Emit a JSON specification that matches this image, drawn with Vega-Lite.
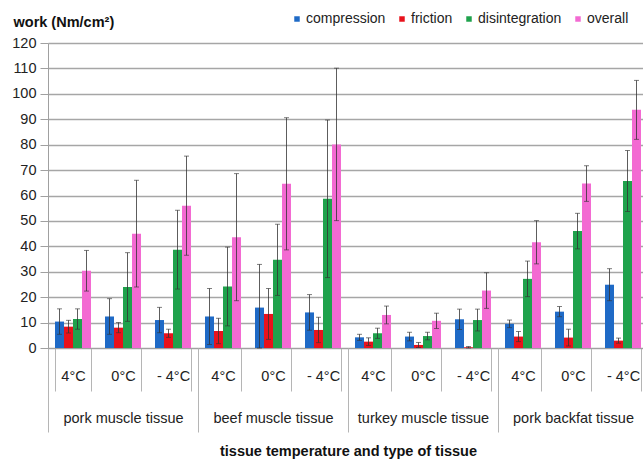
{
  "$schema": "https://vega.github.io/schema/vega-lite/v6.json",
  "width": 600,
  "height": 305,
  "autosize": "none",
  "padding": {"left": 48, "top": 43, "right": -5, "bottom": 114},
  "config": {
    "font": "Liberation Sans",
    "view": {"stroke": null},
    "axis": {"labelFont": "Liberation Sans", "titleFont": "Liberation Sans", "labelColor": "#222", "titleColor": "#111"},
    "legend": {"labelFont": "Liberation Sans"}
  },
  "data": {
    "values": [
      {"group": "pork muscle tissue|4°C", "tissue": "pork muscle tissue", "series": "compression", "value": 10.4, "lo": 5.4, "hi": 15.4},
      {"group": "pork muscle tissue|4°C", "tissue": "pork muscle tissue", "series": "friction", "value": 8.4, "lo": 5.9, "hi": 10.9},
      {"group": "pork muscle tissue|4°C", "tissue": "pork muscle tissue", "series": "disintegration", "value": 11.4, "lo": 7.4, "hi": 15.4},
      {"group": "pork muscle tissue|4°C", "tissue": "pork muscle tissue", "series": "overall", "value": 30.4, "lo": 22.4, "hi": 38.4},
      {"group": "pork muscle tissue|0°C", "tissue": "pork muscle tissue", "series": "compression", "value": 12.4, "lo": 5.4, "hi": 19.4},
      {"group": "pork muscle tissue|0°C", "tissue": "pork muscle tissue", "series": "friction", "value": 8.0, "lo": 6.0, "hi": 10.0},
      {"group": "pork muscle tissue|0°C", "tissue": "pork muscle tissue", "series": "disintegration", "value": 24.0, "lo": 10.5, "hi": 37.5},
      {"group": "pork muscle tissue|0°C", "tissue": "pork muscle tissue", "series": "overall", "value": 45.0, "lo": 24.0, "hi": 66.0},
      {"group": "pork muscle tissue|- 4°C", "tissue": "pork muscle tissue", "series": "compression", "value": 11.0, "lo": 6.0, "hi": 16.0},
      {"group": "pork muscle tissue|- 4°C", "tissue": "pork muscle tissue", "series": "friction", "value": 5.8, "lo": 4.2, "hi": 7.4},
      {"group": "pork muscle tissue|- 4°C", "tissue": "pork muscle tissue", "series": "disintegration", "value": 38.7, "lo": 23.2, "hi": 54.2},
      {"group": "pork muscle tissue|- 4°C", "tissue": "pork muscle tissue", "series": "overall", "value": 56.0, "lo": 36.5, "hi": 75.5},
      {"group": "beef muscle tissue|4°C", "tissue": "beef muscle tissue", "series": "compression", "value": 12.4, "lo": 1.4, "hi": 23.4},
      {"group": "beef muscle tissue|4°C", "tissue": "beef muscle tissue", "series": "friction", "value": 6.7, "lo": 1.7, "hi": 11.7},
      {"group": "beef muscle tissue|4°C", "tissue": "beef muscle tissue", "series": "disintegration", "value": 24.2, "lo": 8.7, "hi": 39.7},
      {"group": "beef muscle tissue|4°C", "tissue": "beef muscle tissue", "series": "overall", "value": 43.6, "lo": 18.6, "hi": 68.6},
      {"group": "beef muscle tissue|0°C", "tissue": "beef muscle tissue", "series": "compression", "value": 15.9, "lo": 0, "hi": 32.9},
      {"group": "beef muscle tissue|0°C", "tissue": "beef muscle tissue", "series": "friction", "value": 13.4, "lo": 3.4, "hi": 23.4},
      {"group": "beef muscle tissue|0°C", "tissue": "beef muscle tissue", "series": "disintegration", "value": 34.7, "lo": 20.7, "hi": 48.7},
      {"group": "beef muscle tissue|0°C", "tissue": "beef muscle tissue", "series": "overall", "value": 64.6, "lo": 38.6, "hi": 90.6},
      {"group": "beef muscle tissue|- 4°C", "tissue": "beef muscle tissue", "series": "compression", "value": 14.0, "lo": 7.0, "hi": 21.0},
      {"group": "beef muscle tissue|- 4°C", "tissue": "beef muscle tissue", "series": "friction", "value": 7.1, "lo": 2.1, "hi": 12.1},
      {"group": "beef muscle tissue|- 4°C", "tissue": "beef muscle tissue", "series": "disintegration", "value": 58.7, "lo": 27.7, "hi": 89.7},
      {"group": "beef muscle tissue|- 4°C", "tissue": "beef muscle tissue", "series": "overall", "value": 80.1, "lo": 50.1, "hi": 110.1},
      {"group": "turkey muscle tissue|4°C", "tissue": "turkey muscle tissue", "series": "compression", "value": 4.2, "lo": 3.0, "hi": 5.4},
      {"group": "turkey muscle tissue|4°C", "tissue": "turkey muscle tissue", "series": "friction", "value": 2.5, "lo": 1.0, "hi": 4.0},
      {"group": "turkey muscle tissue|4°C", "tissue": "turkey muscle tissue", "series": "disintegration", "value": 5.8, "lo": 3.8, "hi": 7.8},
      {"group": "turkey muscle tissue|4°C", "tissue": "turkey muscle tissue", "series": "overall", "value": 13.0, "lo": 9.5, "hi": 16.5},
      {"group": "turkey muscle tissue|0°C", "tissue": "turkey muscle tissue", "series": "compression", "value": 4.5, "lo": 2.8, "hi": 6.2},
      {"group": "turkey muscle tissue|0°C", "tissue": "turkey muscle tissue", "series": "friction", "value": 1.2, "lo": 0.2, "hi": 2.2},
      {"group": "turkey muscle tissue|0°C", "tissue": "turkey muscle tissue", "series": "disintegration", "value": 4.7, "lo": 3.2, "hi": 6.2},
      {"group": "turkey muscle tissue|0°C", "tissue": "turkey muscle tissue", "series": "overall", "value": 10.7, "lo": 7.7, "hi": 13.7},
      {"group": "turkey muscle tissue|- 4°C", "tissue": "turkey muscle tissue", "series": "compression", "value": 11.3, "lo": 7.3, "hi": 15.3},
      {"group": "turkey muscle tissue|- 4°C", "tissue": "turkey muscle tissue", "series": "friction", "value": 0.3, "lo": 0.0, "hi": 0.6},
      {"group": "turkey muscle tissue|- 4°C", "tissue": "turkey muscle tissue", "series": "disintegration", "value": 11.0, "lo": 6.7, "hi": 15.3},
      {"group": "turkey muscle tissue|- 4°C", "tissue": "turkey muscle tissue", "series": "overall", "value": 22.6, "lo": 15.6, "hi": 29.6},
      {"group": "pork backfat tissue|4°C", "tissue": "pork backfat tissue", "series": "compression", "value": 9.5, "lo": 8.0, "hi": 11.0},
      {"group": "pork backfat tissue|4°C", "tissue": "pork backfat tissue", "series": "friction", "value": 4.5, "lo": 2.5, "hi": 6.5},
      {"group": "pork backfat tissue|4°C", "tissue": "pork backfat tissue", "series": "disintegration", "value": 27.2, "lo": 20.2, "hi": 34.2},
      {"group": "pork backfat tissue|4°C", "tissue": "pork backfat tissue", "series": "overall", "value": 41.6, "lo": 33.1, "hi": 50.1},
      {"group": "pork backfat tissue|0°C", "tissue": "pork backfat tissue", "series": "compression", "value": 14.3, "lo": 12.3, "hi": 16.3},
      {"group": "pork backfat tissue|0°C", "tissue": "pork backfat tissue", "series": "friction", "value": 4.1, "lo": 0.8, "hi": 7.4},
      {"group": "pork backfat tissue|0°C", "tissue": "pork backfat tissue", "series": "disintegration", "value": 46.0, "lo": 39.0, "hi": 53.0},
      {"group": "pork backfat tissue|0°C", "tissue": "pork backfat tissue", "series": "overall", "value": 64.7, "lo": 57.7, "hi": 71.7},
      {"group": "pork backfat tissue|- 4°C", "tissue": "pork backfat tissue", "series": "compression", "value": 24.9, "lo": 18.6, "hi": 31.2},
      {"group": "pork backfat tissue|- 4°C", "tissue": "pork backfat tissue", "series": "friction", "value": 2.9, "lo": 1.9, "hi": 3.9},
      {"group": "pork backfat tissue|- 4°C", "tissue": "pork backfat tissue", "series": "disintegration", "value": 65.7, "lo": 53.7, "hi": 77.7},
      {"group": "pork backfat tissue|- 4°C", "tissue": "pork backfat tissue", "series": "overall", "value": 93.7, "lo": 82.1, "hi": 105.3}
    ]
  },
  "layer": [
    {
      "encoding": {
        "x": {
          "field": "group", "type": "nominal", "sort": null,
          "scale": {"paddingInner": 0.28, "paddingOuter": 0.14},
          "axis": {
            "orient": "bottom", "title": null, "labelAngle": 0,
            "labelExpr": "split(datum.value, '|')[1]",
            "tickBand": "extent", "tickSize": 43, "tickColor": "#b5b5b5", "tickWidth": 1,
            "domainColor": "#a0a0a0", "domainWidth": 1,
            "labelFontSize": 14.5, "labelPadding": -22, "labelOverlap": false, "labelBound": false
          }
        },
        "xOffset": {"field": "series", "type": "nominal", "sort": ["compression", "friction", "disintegration", "overall"], "scale": {"paddingInner": 0, "paddingOuter": 0}}
      },
      "layer": [
        {
          "mark": {"type": "bar"},
          "encoding": {
            "y": {
              "field": "value", "type": "quantitative",
              "scale": {"domain": [0, 120], "nice": false},
              "axis": {
                "values": [0, 10, 20, 30, 40, 50, 60, 70, 80, 90, 100, 110, 120],
                "tickCount": 13, "labelOverlap": false, "labelFlush": false,
                "title": "work (Nm/cm²)", "titleAngle": 0, "titleAlign": "left", "titleBaseline": "middle",
                "titleX": -35, "titleY": -21, "titleFontSize": 14.5, "titleFontWeight": "bold",
                "labelFontSize": 14.5, "labelPadding": 4, "tickSize": 8, "tickColor": "#a0a0a0",
                "domainColor": "#a0a0a0", "gridColor": "#a6a6a6", "gridWidth": 1.3, "grid": true
              }
            },
            "color": {
              "field": "series", "type": "nominal",
              "scale": {"domain": ["compression", "friction", "disintegration", "overall"], "range": ["#1f6ac6", "#e8121c", "#1fa24c", "#f36ad2"]},
              "legend": {
                "title": null, "orient": "none", "direction": "horizontal", "legendX": 242, "legendY": -31,
                "symbolType": "square", "symbolSize": 30, "symbolStrokeWidth": 0, "labelFontSize": 14,
                "labelOffset": 2, "columnPadding": 9, "labelColor": "#222"
              }
            }
          }
        },
        {
          "mark": {"type": "rule", "color": "#333", "strokeWidth": 0.8},
          "encoding": {"y": {"field": "lo", "type": "quantitative"}, "y2": {"field": "hi"}}
        },
        {
          "mark": {"type": "tick", "color": "#333", "thickness": 0.9, "size": 5},
          "encoding": {"y": {"field": "hi", "type": "quantitative"}}
        },
        {
          "mark": {"type": "tick", "color": "#333", "thickness": 0.9, "size": 5},
          "encoding": {"y": {"field": "lo", "type": "quantitative"}}
        }
      ]
    },
    {
      "mark": {"type": "rule", "opacity": 0},
      "encoding": {
        "x": {
          "field": "tissue", "type": "nominal",
          "sort": ["pork muscle tissue", "beef muscle tissue", "turkey muscle tissue", "pork backfat tissue"],
          "scale": {"paddingInner": 0, "paddingOuter": 0},
          "axis": {
            "orient": "bottom", "labelAngle": 0, "tickBand": "extent", "tickSize": 84, "tickColor": "#b5b5b5", "tickWidth": 1,
            "domain": false, "labelFontSize": 14.5, "labelPadding": -21, "labelOverlap": false, "labelBound": false,
            "title": "tissue temperature and type of tissue", "titleFontSize": 14.5, "titleFontWeight": "bold",
            "titleBaseline": "middle", "titleY": 103
          }
        }
      }
    }
  ],
  "resolve": {"scale": {"x": "independent"}, "axis": {"x": "independent"}}
}
